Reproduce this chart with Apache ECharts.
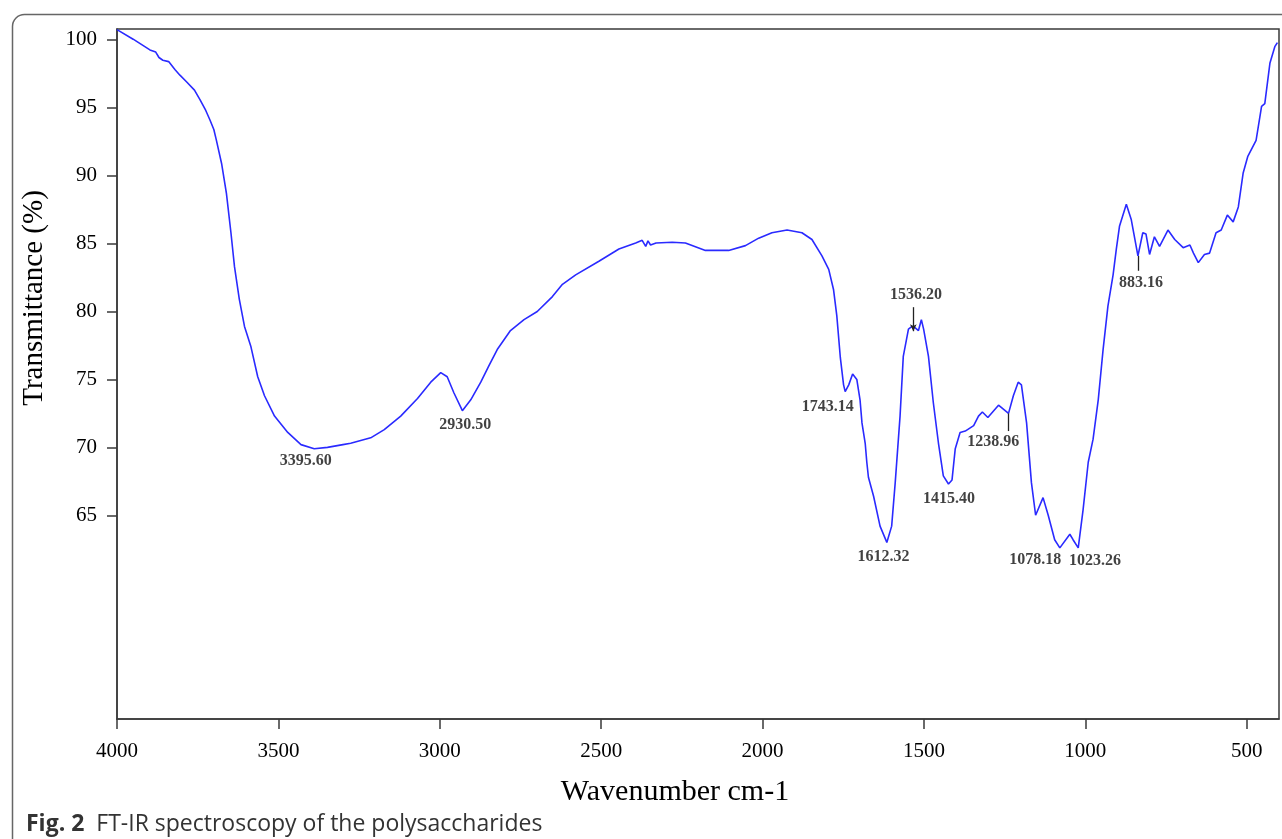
<!DOCTYPE html>
<html><head><meta charset="utf-8">
<script src="https://cdn.jsdelivr.net/npm/echarts@6/dist/echarts.min.js"></script>
<style>html,body{margin:0;padding:0;background:#fff}#c{width:1282px;height:839px}</style>
</head><body><div id="c"></div>
<script>
// FT-IR spectrum (wavenumber cm-1, transmittance %)
const wavenumbers = [4000,3950,3898,3880,3870,3858,3840,3820,3805,3784,3760,3743,3725,3712,3700,3692,3676,3661,3647,3636,3621,3605,3585,3564,3543,3512,3471,3430,3389,3348,3300,3276,3214,3172,3121,3069,3028,2997,2977,2956,2930,2904,2873,2848,2822,2781,2739,2698,2651,2620,2579,2507,2445,2393,2373,2362,2355,2347,2330,2280,2239,2177,2105,2053,2012,1971,1924,1878,1847,1816,1795,1780,1770,1759,1749,1744,1733,1721,1708,1698,1692,1682,1677,1672,1656,1636,1615,1600,1589,1574,1564,1548,1537,1527,1517,1508,1501,1486,1471,1455,1440,1424,1413,1403,1388,1372,1346,1331,1319,1302,1269,1238,1223,1208,1198,1182,1167,1154,1131,1115,1095,1079,1048,1038,1022,1007,991,976,960,945,930,914,904,894,873,858,837,822,812,801,786,770,744,723,697,676,665,650,631,615,595,579,560,542,526,511,497,471,454,444,428,413,405];
const transmittance = [100.75,100.05,99.26,99.1,98.7,98.5,98.4,97.8,97.4,96.9,96.3,95.6,94.8,94.1,93.4,92.6,90.9,88.7,85.8,83.3,80.9,78.9,77.4,75.2,73.8,72.3,71.1,70.2,69.9,70.0,70.2,70.3,70.7,71.3,72.3,73.6,74.8,75.5,75.2,74.0,72.7,73.5,74.8,76.0,77.2,78.6,79.4,80.0,81.1,82.0,82.7,83.7,84.6,85.05,85.24,84.8,85.2,84.9,85.05,85.1,85.05,84.5,84.5,84.85,85.4,85.8,86.0,85.8,85.3,84.1,83.1,81.6,79.7,76.6,74.6,74.1,74.6,75.4,75.0,73.5,71.8,70.3,68.9,67.8,66.4,64.2,63.0,64.2,67.4,72.3,76.7,78.7,78.9,78.8,78.6,79.4,78.7,76.7,73.3,70.3,67.9,67.3,67.6,69.9,71.1,71.2,71.6,72.3,72.6,72.2,73.1,72.5,73.8,74.8,74.6,71.8,67.4,65.0,66.3,65.0,63.2,62.6,63.6,63.2,62.6,65.4,68.9,70.6,73.5,77.2,80.4,82.7,84.6,86.3,87.9,86.8,84.1,85.8,85.7,84.2,85.5,84.8,86.0,85.3,84.7,84.9,84.3,83.6,84.2,84.3,85.8,86.0,87.1,86.6,87.7,90.2,91.4,92.6,95.1,95.3,98.3,99.5,99.8];

const xTickValues = [4000,3500,3000,2500,2000,1500,1000,500];
const yTickValues = [65,70,75,80,85,90,95,100];

// Peak annotations (text and where the text sits, in data units)
const peakLabels = ['3395.60','2930.50','1743.14','1536.20','1612.32','1415.40','1238.96','1078.18','1023.26','883.16'];
const peakLabelWavenumber = [3415.6,2920.8,1798.4,1524.7,1625.2,1422.6,1285.1,1155.2,969.7,827.4];
const peakLabelTransmittance = [68.97,71.69,73.01,81.25,61.91,66.18,70.40,61.69,61.62,82.13];

// Leader lines from label to peak
const leaderWavenumber = [1533, 1238.7, 836.7];
const leaderTop = [80.32, 72.5, 84.1];
const leaderBottom = [78.55, 71.2, 83.0];
const leaderArrow = [true, false, false];

const serif = 'Liberation Serif';
const chart = echarts.init(document.getElementById('c'));

const spectrum = wavenumbers.map((w, i) => [w, transmittance[i]]);
const labelData = peakLabels.map((t, i) => [peakLabelWavenumber[i], peakLabelTransmittance[i], t]);
const leaderData = leaderWavenumber.map((w, i) => [
  { coord: [w, leaderTop[i]], symbol: 'none' },
  { coord: [w, leaderBottom[i]], symbol: leaderArrow[i] ? 'arrow' : 'none', symbolSize: [5, 7] }
]);

chart.setOption({
  animation: false,
  backgroundColor: '#fff',
  grid: { left: 117, right: 3, top: 29, bottom: 120, show: true, borderColor: '#3a3a3a', borderWidth: 1.5 },
  xAxis: {
    type: 'value', inverse: true, min: 400, max: 4000,
    name: 'Wavenumber cm-1', nameLocation: 'middle', nameGap: 58,
    nameTextStyle: { fontFamily: serif, fontSize: 30, color: '#000', padding: [0, 46, 0, 0] },
    axisLine: { show: true, lineStyle: { color: '#3a3a3a', width: 1.5 } },
    axisTick: { show: true, length: 10, inside: false, customValues: xTickValues, lineStyle: { color: '#3a3a3a', width: 1.5 } },
    axisLabel: { customValues: xTickValues, formatter: v => String(v), margin: 22, fontFamily: serif, fontSize: 21, color: '#000' },
    splitLine: { show: false }
  },
  yAxis: {
    type: 'value', min: 50, max: 100.8,
    name: 'Transmittance (%)', nameLocation: 'middle', nameGap: 68, nameRotate: 90,
    nameTextStyle: { fontFamily: serif, fontSize: 29, color: '#000', padding: [0, 0, 0, 152] },
    axisLine: { show: true, lineStyle: { color: '#3a3a3a', width: 1.5 } },
    axisTick: { show: true, length: 10, inside: false, customValues: yTickValues, lineStyle: { color: '#3a3a3a', width: 1.5 } },
    axisLabel: { customValues: yTickValues, formatter: v => String(v), margin: 20, fontFamily: serif, fontSize: 21, color: '#000' },
    splitLine: { show: false }
  },
  graphic: [
    { type: 'rect', left: 10, top: 12, shape: { width: 1300, height: 860, r: 12 }, style: { fill: 'none', stroke: '#666', lineWidth: 1.5 }, silent: true },
    { type: 'text', x: 26, y: 824, style: {
        text: '{b|Fig. 2}  FT-IR spectroscopy of the polysaccharides',
        font: '23px "Open Sans"', fill: '#333', verticalAlign: 'middle',
        rich: { b: { fontFamily: 'Open Sans', fontWeight: 'bold', fontSize: 23, fill: '#333' } }
      } }
  ],
  series: [
    {
      type: 'line', data: spectrum, showSymbol: false, symbol: 'none', smooth: false,
      lineStyle: { color: '#2a2aff', width: 1.6 }, silent: true, z: 3
    },
    {
      type: 'scatter', data: labelData, symbolSize: 1, itemStyle: { color: 'rgba(0,0,0,0)' }, silent: true,
      label: { show: true, position: 'inside', formatter: p => p.value[2], fontFamily: serif, fontWeight: 'bold', fontSize: 16, color: '#111' },
      markLine: {
        silent: true, symbol: 'none', label: { show: false },
        lineStyle: { color: '#222', width: 1.3, type: 'solid' },
        data: leaderData
      },
      z: 4
    }
  ]
});
</script></body></html>
